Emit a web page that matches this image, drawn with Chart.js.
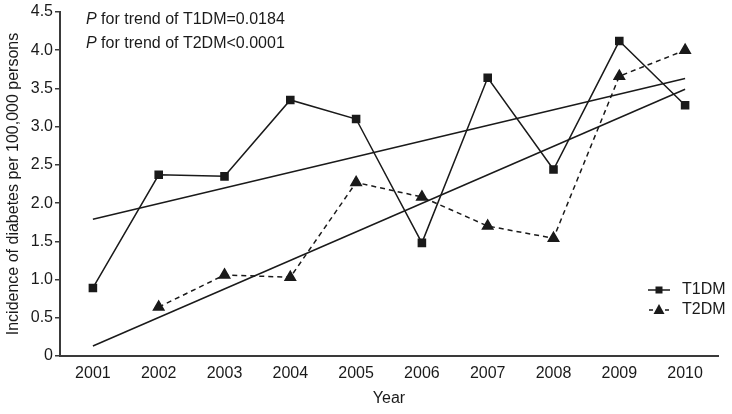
<!DOCTYPE html>
<html>
<head>
<meta charset="utf-8">
<script src="https://cdn.jsdelivr.net/npm/chart.js@4.4.1/dist/chart.umd.min.js"></script>
<style>
  html, body { margin: 0; padding: 0; background: #fff; }
  #wrap { position: relative; width: 732px; height: 414px; }
</style>
</head>
<body>
<div id="wrap"><canvas id="c" width="732" height="414"></canvas></div>
<script>
const years = ['2001','2002','2003','2004','2005','2006','2007','2008','2009','2010'];
const t1dm = [0.89, 2.37, 2.35, 3.35, 3.10, 1.48, 3.64, 2.44, 4.12, 3.28];
const t2dm = [null, 0.64, 1.06, 1.03, 2.27, 2.08, 1.70, 1.54, 3.66, 4.00];
const t1dmTrend = [1.79, null, null, null, null, null, null, null, null, 3.63];
const t2dmTrend = [0.13, null, null, null, null, null, null, null, null, 3.49];
const yTicks = [0, 0.5, 1.0, 1.5, 2.0, 2.5, 3.0, 3.5, 4.0, 4.5];
const annotations = ['for trend of T1DM=0.0184', 'for trend of T2DM<0.0001'];
const legendLabels = ['T1DM', 'T2DM'];

const INK = '#1a1a1a';
const AXIS = '#3a3a3a';
const FONT = '"Liberation Sans", Arial, sans-serif';

const overlay = {
  id: 'overlay',
  afterDraw(chart) {
    const ctx = chart.ctx;
    ctx.save();
    ctx.fillStyle = INK;
    ctx.textBaseline = 'middle';
    ctx.textAlign = 'left';
    const ax = 86, ay = [20, 44];
    annotations.forEach((t, i) => {
      ctx.font = 'italic 16px ' + FONT;
      ctx.fillText('P', ax, ay[i]);
      const w = ctx.measureText('P ').width;
      ctx.font = '16px ' + FONT;
      ctx.fillText(t, ax + w, ay[i]);
    });
    const lx0 = 648, lx1 = 670, lm = 659, ty = [290, 310];
    ctx.strokeStyle = INK;
    ctx.lineWidth = 1.5;
    ctx.beginPath(); ctx.moveTo(lx0, ty[0]); ctx.lineTo(lx1, ty[0]); ctx.stroke();
    ctx.fillRect(lm - 3.5, ty[0] - 3.5, 7, 7);
    ctx.beginPath();
    ctx.moveTo(lx0 + 1, ty[1]); ctx.lineTo(lx0 + 5, ty[1]);
    ctx.moveTo(lx1 - 5, ty[1]); ctx.lineTo(lx1 - 1, ty[1]);
    ctx.stroke();
    ctx.beginPath();
    ctx.moveTo(lm, ty[1] - 6); ctx.lineTo(lm + 5.5, ty[1] + 4); ctx.lineTo(lm - 5.5, ty[1] + 4);
    ctx.closePath(); ctx.fill();
    ctx.font = '16px ' + FONT;
    ctx.fillText(legendLabels[0], 682, ty[0]);
    ctx.fillText(legendLabels[1], 682, ty[1]);
    ctx.restore();
  }
};

new Chart(document.getElementById('c'), {
  type: 'line',
  data: {
    labels: years,
    datasets: [
      { label: legendLabels[0], data: t1dm, borderColor: INK, backgroundColor: INK, borderWidth: 1.5,
        pointStyle: 'rect', pointRadius: 5, pointHoverRadius: 5, tension: 0 },
      { label: legendLabels[1], data: t2dm, borderColor: INK, backgroundColor: INK, borderWidth: 1.5,
        borderDash: [5, 4], pointStyle: 'triangle', pointRadius: 6, pointHoverRadius: 6, tension: 0 },
      { label: 'T1DM trend', data: t1dmTrend, borderColor: INK, borderWidth: 1.5, pointRadius: 0, spanGaps: true },
      { label: 'T2DM trend', data: t2dmTrend, borderColor: INK, borderWidth: 1.5, pointRadius: 0, spanGaps: true }
    ]
  },
  options: {
    responsive: false,
    animation: false,
    devicePixelRatio: 1,
    layout: { padding: { top: 12, right: 14, bottom: 0, left: 0 } },
    plugins: { legend: { display: false }, tooltip: { enabled: false } },
    scales: {
      x: {
        type: 'category',
        offset: true,
        grid: { display: false },
        border: { display: true, color: AXIS, width: 2 },
        ticks: { color: INK, font: { family: FONT, size: 16 }, padding: 0, maxRotation: 0 },
        title: { display: true, text: 'Year', color: INK, font: { family: FONT, size: 16 }, padding: { top: 2, bottom: 6 } },
        afterFit(s) { s.height = 58; }
      },
      y: {
        min: 0, max: 4.5,
        afterBuildTicks(s) { s.ticks = yTicks.map(v => ({ value: v })); },
        grid: { display: true, drawOnChartArea: false, drawTicks: true, tickLength: 5, color: AXIS, lineWidth: 1.5 },
        border: { display: true, color: AXIS, width: 2 },
        ticks: { color: INK, font: { family: FONT, size: 16 }, padding: 2,
          callback: v => v === 0 ? '0' : v.toFixed(1) },
        title: { display: true, text: 'Incidence of diabetes per 100,000 persons', color: INK,
          font: { family: FONT, size: 16 }, padding: { top: 4, bottom: 0 } },
        afterFit(s) { s.width = 60; }
      }
    }
  },
  plugins: [overlay]
});
</script>
</body>
</html>
